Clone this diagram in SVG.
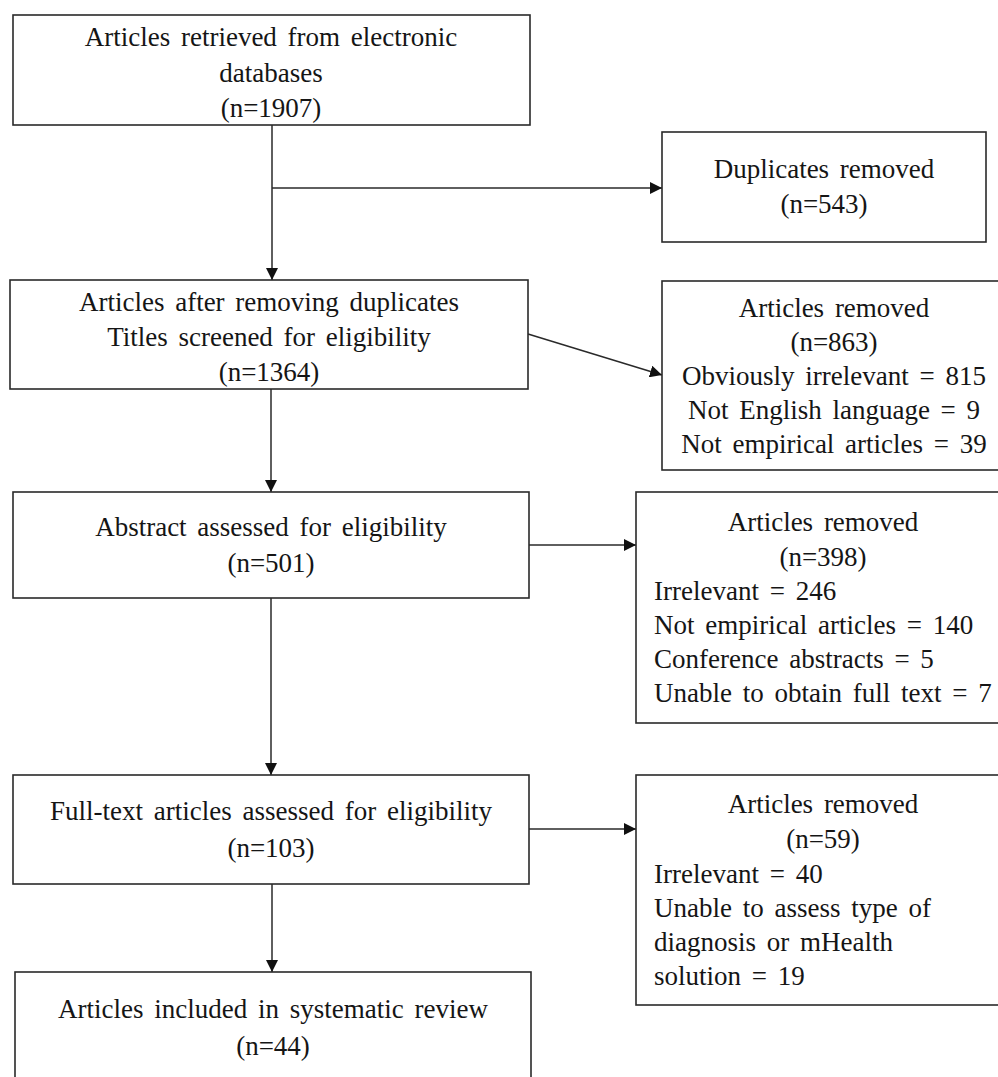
<svg xmlns="http://www.w3.org/2000/svg" width="998" height="1077" viewBox="0 0 998 1077">
<defs>
<style>
.box{fill:#fff;stroke:#2a2a2a;stroke-width:1.6}
.t{font-family:"Liberation Serif","Times New Roman",serif;font-size:27px;fill:#151515;word-spacing:4px}
.c{text-anchor:middle}
.l{text-anchor:start}
.edge{fill:none;stroke:#2a2a2a;stroke-width:1.5}
</style>
<marker id="ah" markerUnits="userSpaceOnUse" markerWidth="12" markerHeight="12" refX="12" refY="6" orient="auto">
<path d="M0,0 L12,6 L0,12 z" fill="#111"/>
</marker>
</defs>
<rect width="998" height="1077" fill="#fff"/>
<g id="connectors">
<line class="edge" x1="272" y1="125" x2="272" y2="280" marker-end="url(#ah)"/>
<line class="edge" x1="272" y1="188" x2="662" y2="188" marker-end="url(#ah)"/>
<line class="edge" x1="528" y1="334" x2="662" y2="375" marker-end="url(#ah)"/>
<line class="edge" x1="271" y1="389" x2="271" y2="492" marker-end="url(#ah)"/>
<line class="edge" x1="529" y1="545" x2="636" y2="545" marker-end="url(#ah)"/>
<line class="edge" x1="271" y1="598" x2="271" y2="775" marker-end="url(#ah)"/>
<line class="edge" x1="529" y1="829" x2="636" y2="829" marker-end="url(#ah)"/>
<line class="edge" x1="272" y1="884" x2="272" y2="972" marker-end="url(#ah)"/>
</g>
<g id="retrieved">
<rect class="box" x="13" y="15" width="517" height="110"/>
<text class="t c" x="271" y="46">Articles retrieved from electronic</text>
<text class="t c" x="271" y="82">databases</text>
<text class="t c" x="271" y="117">(n=1907)</text>
</g>
<g id="duplicates">
<rect class="box" x="662" y="132" width="324" height="110"/>
<text class="t c" x="824" y="178">Duplicates removed</text>
<text class="t c" x="824" y="213">(n=543)</text>
</g>
<g id="after-duplicates">
<rect class="box" x="10" y="280" width="518" height="109"/>
<text class="t c" x="269" y="311">Articles after removing duplicates</text>
<text class="t c" x="269" y="346">Titles screened for eligibility</text>
<text class="t c" x="269" y="381">(n=1364)</text>
</g>
<g id="removed-863">
<rect class="box" x="662" y="281" width="350" height="189"/>
<text class="t c" x="834" y="317">Articles removed</text>
<text class="t c" x="834" y="351">(n=863)</text>
<text class="t c" x="834" y="385">Obviously irrelevant = 815</text>
<text class="t c" x="834" y="419">Not English language = 9</text>
<text class="t c" x="834" y="453">Not empirical articles = 39</text>
</g>
<g id="abstract">
<rect class="box" x="13" y="492" width="516" height="106"/>
<text class="t c" x="271" y="536">Abstract assessed for eligibility</text>
<text class="t c" x="271" y="572">(n=501)</text>
</g>
<g id="removed-398">
<rect class="box" x="636" y="492" width="380" height="231"/>
<text class="t c" x="823" y="531">Articles removed</text>
<text class="t c" x="823" y="566">(n=398)</text>
<text class="t l" x="654" y="600">Irrelevant = 246</text>
<text class="t l" x="654" y="634">Not empirical articles = 140</text>
<text class="t l" x="654" y="668">Conference abstracts = 5</text>
<text class="t l" x="654" y="702">Unable to obtain full text = 7</text>
</g>
<g id="fulltext">
<rect class="box" x="13" y="775" width="516" height="109"/>
<text class="t c" x="271" y="820">Full-text articles assessed for eligibility</text>
<text class="t c" x="271" y="857">(n=103)</text>
</g>
<g id="removed-59">
<rect class="box" x="636" y="775" width="380" height="230"/>
<text class="t c" x="823" y="813">Articles removed</text>
<text class="t c" x="823" y="848">(n=59)</text>
<text class="t l" x="654" y="883">Irrelevant = 40</text>
<text class="t l" x="654" y="917">Unable to assess type of</text>
<text class="t l" x="654" y="951">diagnosis or mHealth</text>
<text class="t l" x="654" y="985">solution = 19</text>
</g>
<g id="included">
<rect class="box" x="15" y="972" width="516" height="120"/>
<text class="t c" x="273" y="1018">Articles included in systematic review</text>
<text class="t c" x="273" y="1055">(n=44)</text>
</g>
</svg>
